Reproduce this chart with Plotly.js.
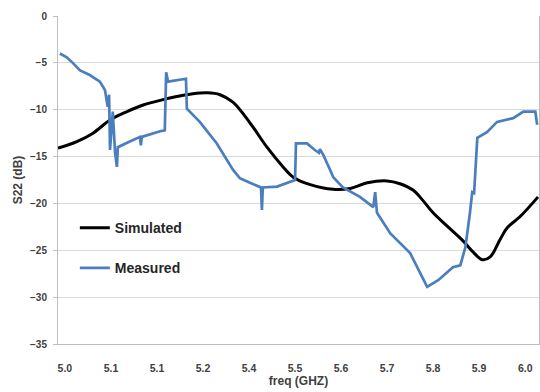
<!DOCTYPE html>
<html>
<head>
<meta charset="utf-8">
<script src="https://cdn.plot.ly/plotly-3.0.1.min.js"></script>
<style>html,body{margin:0;padding:0;background:#fff;}#chart{width:540px;height:392px;}</style>
</head>
<body>
<div id="chart"></div>
<script>
// Tick positions and the labels printed on the original (category-style) axis
var tickFreqs = [5.0, 5.1, 5.2, 5.3, 5.4, 5.5, 5.6, 5.7, 5.8, 5.9, 6.0];
var tickLabels = ["5.0", "5.1", "5.1", "5.2", "5.4", "5.5", "5.6", "5.7", "5.8", "5.9", "6.0"];

// Simulated S22 (dB)
var simFreq = [4.985, 5.026, 5.061, 5.098, 5.135, 5.170, 5.207, 5.243, 5.278, 5.309, 5.337, 5.365,
  5.402, 5.439, 5.474, 5.496, 5.533, 5.583, 5.620, 5.657, 5.700, 5.728, 5.757, 5.778, 5.800,
  5.830, 5.865, 5.887, 5.907, 5.924, 5.946, 5.961, 5.989, 6.028];
var simS22 = [-14.1, -13.4, -12.5, -11.1, -10.2, -9.5, -9.0, -8.6, -8.3, -8.2, -8.4, -9.2,
  -11.4, -14.0, -16.1, -17.2, -18.0, -18.5, -18.4, -17.8, -17.6, -17.9, -18.6, -19.7, -21.0,
  -22.4, -24.0, -25.2, -26.0, -25.7, -23.8, -22.6, -21.4, -19.3];

// Measured S22 (dB)
var measFreq = [4.989, 5.004, 5.017, 5.033, 5.054, 5.076, 5.087, 5.093, 5.096, 5.098, 5.104, 5.109,
  5.113, 5.115, 5.141, 5.163, 5.165, 5.167, 5.207, 5.217, 5.220, 5.224, 5.263, 5.265, 5.293,
  5.330, 5.365, 5.380, 5.402, 5.426, 5.428, 5.430, 5.461, 5.483, 5.500, 5.502, 5.526, 5.543,
  5.552, 5.554, 5.561, 5.576, 5.583, 5.604, 5.641, 5.670, 5.674, 5.678, 5.707, 5.750, 5.765,
  5.787, 5.811, 5.843, 5.859, 5.870, 5.880, 5.885, 5.889, 5.896, 5.917, 5.939, 5.974, 5.996,
  6.022, 6.026];
var measS22 = [-4.0, -4.4, -5.0, -5.8, -6.3, -7.0, -7.9, -9.7, -8.4, -14.3, -10.2, -14.6,
  -16.1, -14.0, -13.4, -12.9, -13.8, -12.9, -12.3, -12.2, -6.0, -7.0, -6.7, -9.9, -11.3,
  -13.6, -16.4, -17.3, -17.8, -18.3, -20.7, -18.3, -18.2, -17.8, -17.5, -13.6, -13.6, -14.3,
  -14.6, -14.2, -14.8, -16.4, -17.2, -18.3, -19.3, -20.4, -18.8, -21.0, -23.2, -25.3, -26.8,
  -28.9, -28.2, -26.8, -26.6, -24.7, -21.0, -18.8, -18.9, -13.0, -12.4, -11.3, -10.9, -10.2,
  -10.2, -11.6];

var fontFam = "Liberation Sans, Arial, sans-serif";
var txt = "#404040";

var traces = [
  {x: simFreq, y: simS22, name: "Simulated", type: "scatter", mode: "lines",
   legendgroup: "a", line: {color: "#000000", width: 3, shape: "spline", smoothing: 1}},
  {x: measFreq, y: measS22, name: "Measured", type: "scatter", mode: "lines",
   legendgroup: "b", line: {color: "#4a7ebf", width: 2.7}}
];

var layout = {
  width: 540, height: 392,
  margin: {l: 58, r: 1, t: 16, b: 48},
  paper_bgcolor: "#ffffff", plot_bgcolor: "#ffffff",
  font: {family: fontFam, color: txt},
  showlegend: true,
  legend: {x: 0.035, y: 0.402, xanchor: "left", yanchor: "top",
    bgcolor: "rgba(0,0,0,0)", borderwidth: 0, tracegroupgap: 19,
    font: {family: fontFam, size: 14, color: "#262626", weight: 700}},
  xaxis: {
    range: [4.985, 6.030], tickvals: tickFreqs, ticktext: tickLabels,
    showgrid: false, zeroline: false,
    showline: true, linecolor: "#bfbfbf", linewidth: 1,
    ticks: "", ticklabelstandoff: 14,
    tickfont: {family: fontFam, size: 10.5, color: txt, weight: 700},
    title: {text: "freq (GHZ)", standoff: 2, font: {family: fontFam, size: 12, color: txt, weight: 700}}
  },
  yaxis: {
    range: [-35, 0], dtick: 5, tick0: 0,
    showgrid: true, gridcolor: "#d9d9d9", gridwidth: 1, zeroline: false,
    showline: true, linecolor: "#bfbfbf", linewidth: 1, mirror: true,
    ticks: "outside", ticklen: 4, tickcolor: "#bfbfbf", ticklabelstandoff: 4,
    tickfont: {family: fontFam, size: 10, color: txt, weight: 700},
    title: {text: "S22 (dB)", standoff: 4, font: {family: fontFam, size: 12, color: txt, weight: 700}}
  }
};

Plotly.newPlot("chart", traces, layout, {staticPlot: true, displayModeBar: false});
</script>
</body>
</html>
